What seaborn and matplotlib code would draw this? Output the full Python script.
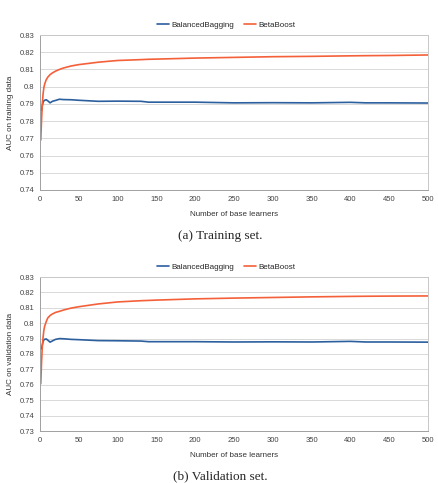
import pandas as pd
import matplotlib.pyplot as plt
import seaborn as sns

# number of base learners (knots)
n_learners = [1, 2, 3, 4, 5, 6, 8, 10, 13, 16, 20, 25, 30, 40, 50, 75, 100,
              130, 140, 150, 200, 250, 300, 350, 400, 420, 450, 500]

# training set
train_bagging = [0.7866, 0.7862, 0.7890, 0.7910, 0.7918, 0.7921, 0.7924, 0.7918,
                 0.7906, 0.7915, 0.7920, 0.7927, 0.7925, 0.7924, 0.7921, 0.7915,
                 0.7916, 0.7915, 0.7910, 0.7910, 0.7910, 0.7906, 0.7907, 0.7906,
                 0.7909, 0.7906, 0.7906, 0.7905]
train_beta = [0.7690, 0.7810, 0.7900, 0.7960, 0.7995, 0.8015, 0.8040, 0.8055,
              0.8070, 0.8080, 0.8090, 0.8100, 0.8108, 0.8120, 0.8128, 0.8142,
              0.8152, 0.8157, 0.8159, 0.8160, 0.8166, 0.8170, 0.8174, 0.8176,
              0.8179, 0.8180, 0.8181, 0.8184]

# validation set
val_bagging = [0.7832, 0.7835, 0.7860, 0.7880, 0.7892, 0.7895, 0.7898, 0.7890,
               0.7877, 0.7885, 0.7895, 0.7900, 0.7899, 0.7895, 0.7893, 0.7887,
               0.7886, 0.7884, 0.7880, 0.7880, 0.7880, 0.7878, 0.7879, 0.7878,
               0.7882, 0.7878, 0.7878, 0.7877]
val_beta = [0.7607, 0.7750, 0.7850, 0.7910, 0.7955, 0.7980, 0.8010, 0.8034,
            0.8050, 0.8060, 0.8070, 0.8077, 0.8085, 0.8098, 0.8107, 0.8125,
            0.8138, 0.8146, 0.8148, 0.8150, 0.8158, 0.8163, 0.8167, 0.8171,
            0.8174, 0.8175, 0.8176, 0.8177]

series_names = ["BalancedBagging", "BetaBoost"]
colors = ["#2c5f9e", "#f4603a"]


def make_df(bagging, beta):
    return pd.DataFrame({
        "n": n_learners * 2,
        "auc": bagging + beta,
        "model": [series_names[0]] * len(n_learners) + [series_names[1]] * len(n_learners),
    })


def draw_panel(ax, df, ylim, ylabel):
    sns.lineplot(data=df, x="n", y="auc", hue="model", palette=colors,
                 linewidth=1.2, ax=ax)
    ax.set_xlim(0, 500)
    ax.set_ylim(*ylim)
    ax.set_xticks(range(0, 501, 50))
    yt = [round(ylim[0] + 0.01 * i, 2) for i in range(int(round((ylim[1] - ylim[0]) / 0.01)) + 1)]
    ax.set_yticks(yt)
    ax.set_yticklabels([f"{v:g}" for v in yt])
    ax.grid(axis="y", color="#d9d9d9", linewidth=0.7)
    ax.grid(axis="x", visible=False)
    for s in ax.spines.values():
        s.set_color("#c8c8c8")
        s.set_linewidth(0.7)
    ax.spines["left"].set_color("#a0a0a0")
    ax.spines["bottom"].set_color("#a0a0a0")
    ax.tick_params(labelsize=5.5, colors="#444444", length=2, width=0.5, pad=2)
    ax.set_xlabel("Number of base learners", fontsize=5.8, color="#333333", labelpad=6)
    ax.set_ylabel(ylabel, fontsize=5.8, color="#333333", labelpad=4)
    ax.legend(loc="lower center", bbox_to_anchor=(0.48, 1.02), ncol=2, frameon=False,
              fontsize=5.8, handlelength=1.5, handletextpad=0.3, columnspacing=1.2,
              borderaxespad=0)


sns.set_style("white")
plt.rcParams["font.family"] = ["Liberation Sans", "DejaVu Sans"]

fig = plt.figure(figsize=(4.39, 4.83), dpi=100)
W, H = 439, 483
ax1 = fig.add_axes([40 / W, 293 / H, 388 / W, 155 / H])
ax2 = fig.add_axes([40 / W, 52 / H, 388 / W, 154 / H])

draw_panel(ax1, make_df(train_bagging, train_beta), (0.74, 0.83), "AUC on training data")
draw_panel(ax2, make_df(val_bagging, val_beta), (0.73, 0.83), "AUC on validation data")

fig.text(220 / W, 1 - 236 / H, "(a) Training set.", ha="center", va="center",
         fontsize=9.5, family="Liberation Serif")
fig.text(220 / W, 1 - 476 / H, "(b) Validation set.", ha="center", va="center",
         fontsize=9.5, family="Liberation Serif")

fig.savefig("out.png", dpi=100)
